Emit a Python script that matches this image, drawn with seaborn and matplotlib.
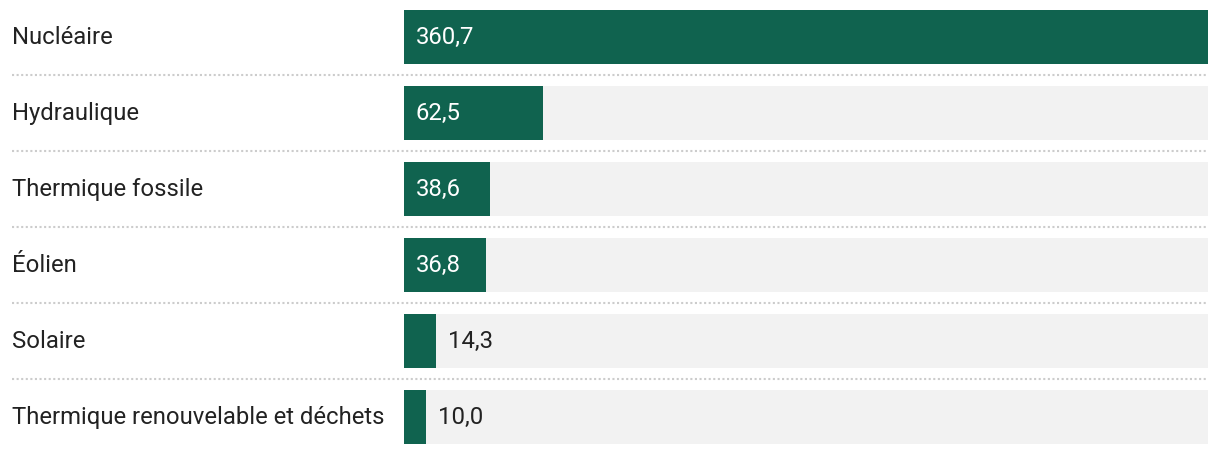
import numpy as np
import pandas as pd
import seaborn as sns
import matplotlib.pyplot as plt
from matplotlib import transforms

# Data
categories = ['Nucléaire', 'Hydraulique', 'Thermique fossile', 'Éolien',
              'Solaire', 'Thermique renouvelable et déchets']
values = [360.7, 62.5, 38.6, 36.8, 14.3, 10.0]
labels = ['360,7', '62,5', '38,6', '36,8', '14,3', '10,0']

green = '#10634f'
grey = '#f2f2f2'
plt.rcParams['font.family'] = ['Roboto', 'DejaVu Sans']

df = pd.DataFrame({'cat': categories, 'val': values})
df['full'] = max(values)

fig = plt.figure(figsize=(12.2, 4.54), dpi=100)
ax = fig.add_axes([404 / 1220, 0, 804 / 1220, 1])

# grey track then the value bars
sns.barplot(data=df, x='full', y='cat', color=grey, width=54 / 76,
            saturation=1, ax=ax, orient='h')
sns.barplot(data=df, x='val', y='cat', color=green, width=54 / 76,
            saturation=1, ax=ax, orient='h')

ax.set_xlim(0, max(values))
ax.set_ylim((454 - 37) / 76, -37 / 76)
ax.axis('off')

px = ax.transData.transform((1, 0))[0] - ax.transData.transform((0, 0))[0]
lab_tr = transforms.blended_transform_factory(fig.transFigure, ax.transData)
fs = 17.2

for i, (cat, v, lab) in enumerate(zip(categories, values, labels)):
    ax.text(12 / 1220, i + 0.01, cat, transform=lab_tr, ha='left', va='center',
            fontsize=fs, color='#222222')
    if v > 20:
        ax.text(12 / px, i + 0.01, lab, ha='left', va='center', fontsize=fs,
                color='white')
    else:
        ax.text(v + 12 / px, i + 0.01, lab, ha='left', va='center', fontsize=fs,
                color='#222222')

# dotted separators between rows
for i in range(len(categories) - 1):
    ax.axhline(i + 0.5, xmin=(12 - 404) / 804, xmax=1, color='#cccccc',
               linestyle=(0, (1, 1.2)), linewidth=1.5, clip_on=False)

fig.savefig('out.png', dpi=100)
